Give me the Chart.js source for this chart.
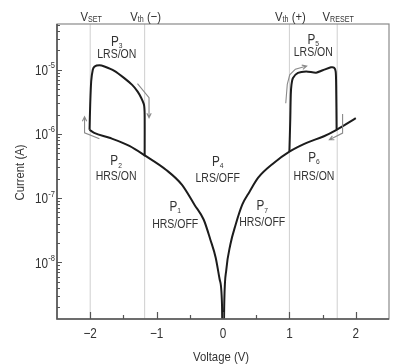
<!DOCTYPE html>
<html>
<head>
<meta charset="utf-8">
<script src="https://cdn.jsdelivr.net/npm/chart.js@4.4.1/dist/chart.umd.min.js"></script>
<style>
  html, body { margin: 0; padding: 0; background: #fff; }
  #wrap { width: 394px; height: 364px; }
</style>
</head>
<body>
<div id="wrap"><canvas id="ivChart" width="394" height="364"></canvas></div>
<script>
// Base I-V sweep (HRS / OFF branches)
const voltage = [-2.01, -1.94, -1.71, -1.41, -1.16, -0.86, -0.62, -0.43, -0.29, -0.19, -0.11, -0.05, -0.015, 0,
  0.02, 0.05, 0.11, 0.19, 0.29, 0.40, 0.53, 0.77, 1.00, 1.25, 1.52, 1.71, 2.00];
const current = [1.16e-6, 1.04e-6, 8.7e-7, 6.5e-7, 4.5e-7, 2.77e-7, 1.62e-7, 7.9e-8, 4.6e-8, 2.25e-8, 1.18e-8, 5.4e-9, 2.2e-9, 1e-10,
  2.6e-9, 7.7e-9, 1.88e-8, 3.85e-8, 7.9e-8, 1.26e-7, 2.08e-7, 3.56e-7, 5.3e-7, 7.2e-7, 9.2e-7, 1.16e-6, 1.76e-6];

// Negative side SET loop (P3, LRS/ON)
const setVoltage = [-2.01, -2.0, -1.985, -1.961, -1.936, -1.861, -1.786, -1.637, -1.487, -1.368, -1.288, -1.233, -1.19, -1.18, -1.18];
const setCurrent = [1.16e-6, 2.85e-6, 6.6e-6, 1.0e-5, 1.12e-5, 1.17e-5, 1.12e-5, 9.6e-6, 7.4e-6, 5.8e-6, 4.6e-6, 3.66e-6, 2.85e-6, 1.99e-6, 4.5e-7];

// Positive side loop (P5, LRS/ON)
const resetVoltage = [1.0, 1.013, 1.021, 1.031, 1.054, 1.129, 1.253, 1.402, 1.502, 1.626, 1.674, 1.697, 1.704, 1.711];
const resetCurrent = [5.3e-7, 1.66e-6, 4.1e-6, 5.8e-6, 7.4e-6, 8.9e-6, 9.4e-6, 9.0e-6, 9.8e-6, 1.09e-5, 1.07e-5, 9.3e-6, 5.8e-6, 1.17e-6];

// Reference voltages and their labels
const refVoltages = [-2, -1.18, 1, 1.72];
const refNames = [['V', 'SET', ''], ['V', 'th', ' (\u2212)'], ['V', 'th', ' (+)'], ['V', 'RESET', '']];

// Axis ticks
const xTicks = [-2, -1, 0, 1, 2];
const xTickLabels = ['\u22122', '\u22121', '0', '1', '2'];
const yDecades = [-8, -7, -6, -5];
const Y_MIN = 1.31e-9, Y_MAX = 5.15e-5;

// Region labels: index, state, P position, state position (data coords)
const regionIds = ['3', '2', '1', '4', '7', '6', '5'];
const regionStates = ['LRS/ON', 'HRS/ON', 'HRS/OFF', 'LRS/OFF', 'HRS/OFF', 'HRS/ON', 'LRS/ON'];
const regionV = [-1.60, -1.61, -0.72, -0.08, 0.59, 1.37, 1.36];
const regionPI = [2.73e-5, 3.73e-7, 7.2e-8, 3.69e-7, 7.43e-8, 4.22e-7, 2.93e-5];
const regionSI = [1.74e-5, 2.18e-7, 3.92e-8, 2.0e-7, 4.2e-8, 2.18e-7, 1.82e-5];

// Sweep direction arrows
const arrowPaths = [
  [[-1.861, 8.4e-7], [-2.085, 1.04e-6], [-2.085, 1.85e-6]],
  [[-1.288, 6.05e-6], [-1.114, 3.66e-6], [-1.114, 1.79e-6]],
  [[0.945, 3.0e-6], [0.968, 5.9e-6], [1.005, 8.3e-6], [1.09, 1.02e-5], [1.26, 1.14e-5]],
  [[1.801, 2.04e-6], [1.801, 1.03e-6], [1.602, 8.1e-7]]
];

const FONT = "'Liberation Sans', Arial, sans-serif";
const SX = 0.84; // narrow type, like the original
const TEXT = '#333';

function toPoints(xs, ys) {
  return xs.map((v, i) => ({ x: v, y: ys[i] }));
}

function textWidth(ctx, str, size) {
  ctx.font = size + 'px ' + FONT;
  return ctx.measureText(str).width * SX;
}

function drawText(ctx, str, px, py, size, align, rot) {
  ctx.save();
  ctx.font = size + 'px ' + FONT;
  ctx.textAlign = align || 'center';
  ctx.textBaseline = 'middle';
  ctx.translate(px, py);
  if (rot) ctx.rotate(rot);
  ctx.scale(SX, 1);
  ctx.fillText(str, 0, 0);
  ctx.restore();
}

// a row of text parts [text, size, dy] centred on cx
function drawParts(ctx, parts, cx, cy) {
  let total = 0;
  parts.forEach(p => { total += textWidth(ctx, p[0], p[1]); });
  let px = cx - total / 2;
  parts.forEach(p => {
    drawText(ctx, p[0], px, cy + p[2], p[1], 'left');
    px += textWidth(ctx, p[0], p[1]);
  });
}

const decorations = {
  id: 'decorations',
  afterDatasetsDraw(chart) {
    const { ctx, scales: { x, y } } = chart;
    ctx.save();

    // arrows
    ctx.strokeStyle = '#8a8a8a';
    ctx.lineWidth = 1.1;
    arrowPaths.forEach(path => {
      const pts = path.map(p => [x.getPixelForValue(p[0]), y.getPixelForValue(p[1])]);
      ctx.beginPath();
      pts.forEach((p, i) => (i ? ctx.lineTo(p[0], p[1]) : ctx.moveTo(p[0], p[1])));
      const [x1, y1] = pts[pts.length - 2];
      const [x2, y2] = pts[pts.length - 1];
      const ang = Math.atan2(y2 - y1, x2 - x1);
      ctx.moveTo(x2 - 5 * Math.cos(ang - 0.45), y2 - 5 * Math.sin(ang - 0.45));
      ctx.lineTo(x2, y2);
      ctx.lineTo(x2 - 5 * Math.cos(ang + 0.45), y2 - 5 * Math.sin(ang + 0.45));
      ctx.stroke();
    });

    // region labels
    ctx.fillStyle = TEXT;
    regionIds.forEach((id, i) => {
      const cx = x.getPixelForValue(regionV[i]);
      drawParts(ctx, [['P', 14, 0], [id, 8, 4]], cx, y.getPixelForValue(regionPI[i]));
      drawParts(ctx, [[regionStates[i], 12.5, 0]], cx, y.getPixelForValue(regionSI[i]));
    });
    ctx.restore();
  },
  afterDraw(chart) {
    const { ctx, chartArea: a, scales: { x, y } } = chart;
    ctx.save();

    // frame
    ctx.strokeStyle = '#8a8a8a';
    ctx.lineWidth = 1.2;
    ctx.strokeRect(a.left, a.top, a.right - a.left, a.bottom - a.top);
    ctx.strokeStyle = '#555';
    ctx.lineWidth = 1.6;
    ctx.beginPath();
    ctx.moveTo(a.left, a.top);
    ctx.lineTo(a.left, a.bottom);
    ctx.lineTo(a.right, a.bottom);
    ctx.stroke();

    // inward ticks
    ctx.lineWidth = 1.2;
    ctx.beginPath();
    for (let v = -2; v <= 2; v += 0.5) {
      const px = Math.round(x.getPixelForValue(v)) + 0.5;
      const len = Number.isInteger(v) ? 7 : 4;
      ctx.moveTo(px, a.bottom);
      ctx.lineTo(px, a.bottom - len);
    }
    for (let d = -9; d <= -5; d++) {
      for (let m = 1; m <= 9; m++) {
        const val = m * Math.pow(10, d);
        if (val < Y_MIN || val > Y_MAX) continue;
        const py = Math.round(y.getPixelForValue(val)) + 0.5;
        ctx.moveTo(a.left, py);
        ctx.lineTo(a.left + (m === 1 ? 5 : 3), py);
      }
    }
    ctx.stroke();

    ctx.fillStyle = TEXT;
    // x tick labels
    xTicks.forEach((v, i) => {
      drawText(ctx, xTickLabels[i], x.getPixelForValue(v), a.bottom + 15, 14, 'center');
    });
    // y tick labels 10^n
    yDecades.forEach(d => {
      const py = y.getPixelForValue(Math.pow(10, d));
      drawText(ctx, '10', a.left - 9, py + 1.5, 14, 'right');
      drawText(ctx, '-' + Math.abs(d), a.left - 8.7, py - 4, 9, 'left');
    });
    // axis titles
    drawText(ctx, 'Voltage (V)', (a.left + a.right) / 2 - 2, a.bottom + 38, 13.5, 'center');
    drawText(ctx, 'Current (A)', 20.5, (a.top + a.bottom) / 2 + 1, 13.5, 'center', -Math.PI / 2);

    // reference voltage names above the frame
    refVoltages.forEach((v, i) => {
      const n = refNames[i];
      drawParts(ctx, [[n[0], 13.5, 0], [n[1], 8.5, 2.5], [n[2], 13.5, 0]], x.getPixelForValue(v) + 1, a.top - 7);
    });
    ctx.restore();
  }
};

const refSets = refVoltages.map(v => ({
  data: [{ x: v, y: Y_MIN }, { x: v, y: Y_MAX }],
  borderColor: '#cfcfcf',
  borderWidth: 1,
  pointRadius: 0
}));

const curveStyle = { borderColor: '#1c1c1c', borderWidth: 2, pointRadius: 0, fill: false };

new Chart(document.getElementById('ivChart'), {
  type: 'line',
  data: {
    datasets: [
      Object.assign({ label: 'base', data: toPoints(voltage, current), cubicInterpolationMode: 'monotone' }, curveStyle),
      Object.assign({ label: 'set', data: toPoints(setVoltage, setCurrent), tension: 0.25 }, curveStyle),
      Object.assign({ label: 'reset', data: toPoints(resetVoltage, resetCurrent), tension: 0.25 }, curveStyle)
    ].concat(refSets)
  },
  options: {
    responsive: false,
    devicePixelRatio: 1,
    animation: false,
    layout: { padding: { top: 24, right: 5, left: 0, bottom: 0 } },
    plugins: { legend: { display: false }, tooltip: { enabled: false } },
    scales: {
      x: {
        type: 'linear',
        min: -2.5,
        max: 2.5,
        grid: { display: false, drawTicks: false },
        border: { display: false },
        ticks: { display: false },
        afterFit: s => { s.height = 45; }
      },
      y: {
        type: 'logarithmic',
        min: Y_MIN,
        max: Y_MAX,
        grid: { display: false, drawTicks: false },
        border: { display: false },
        ticks: { display: false },
        afterFit: s => { s.width = 57; }
      }
    }
  },
  plugins: [decorations]
});
</script>
</body>
</html>
